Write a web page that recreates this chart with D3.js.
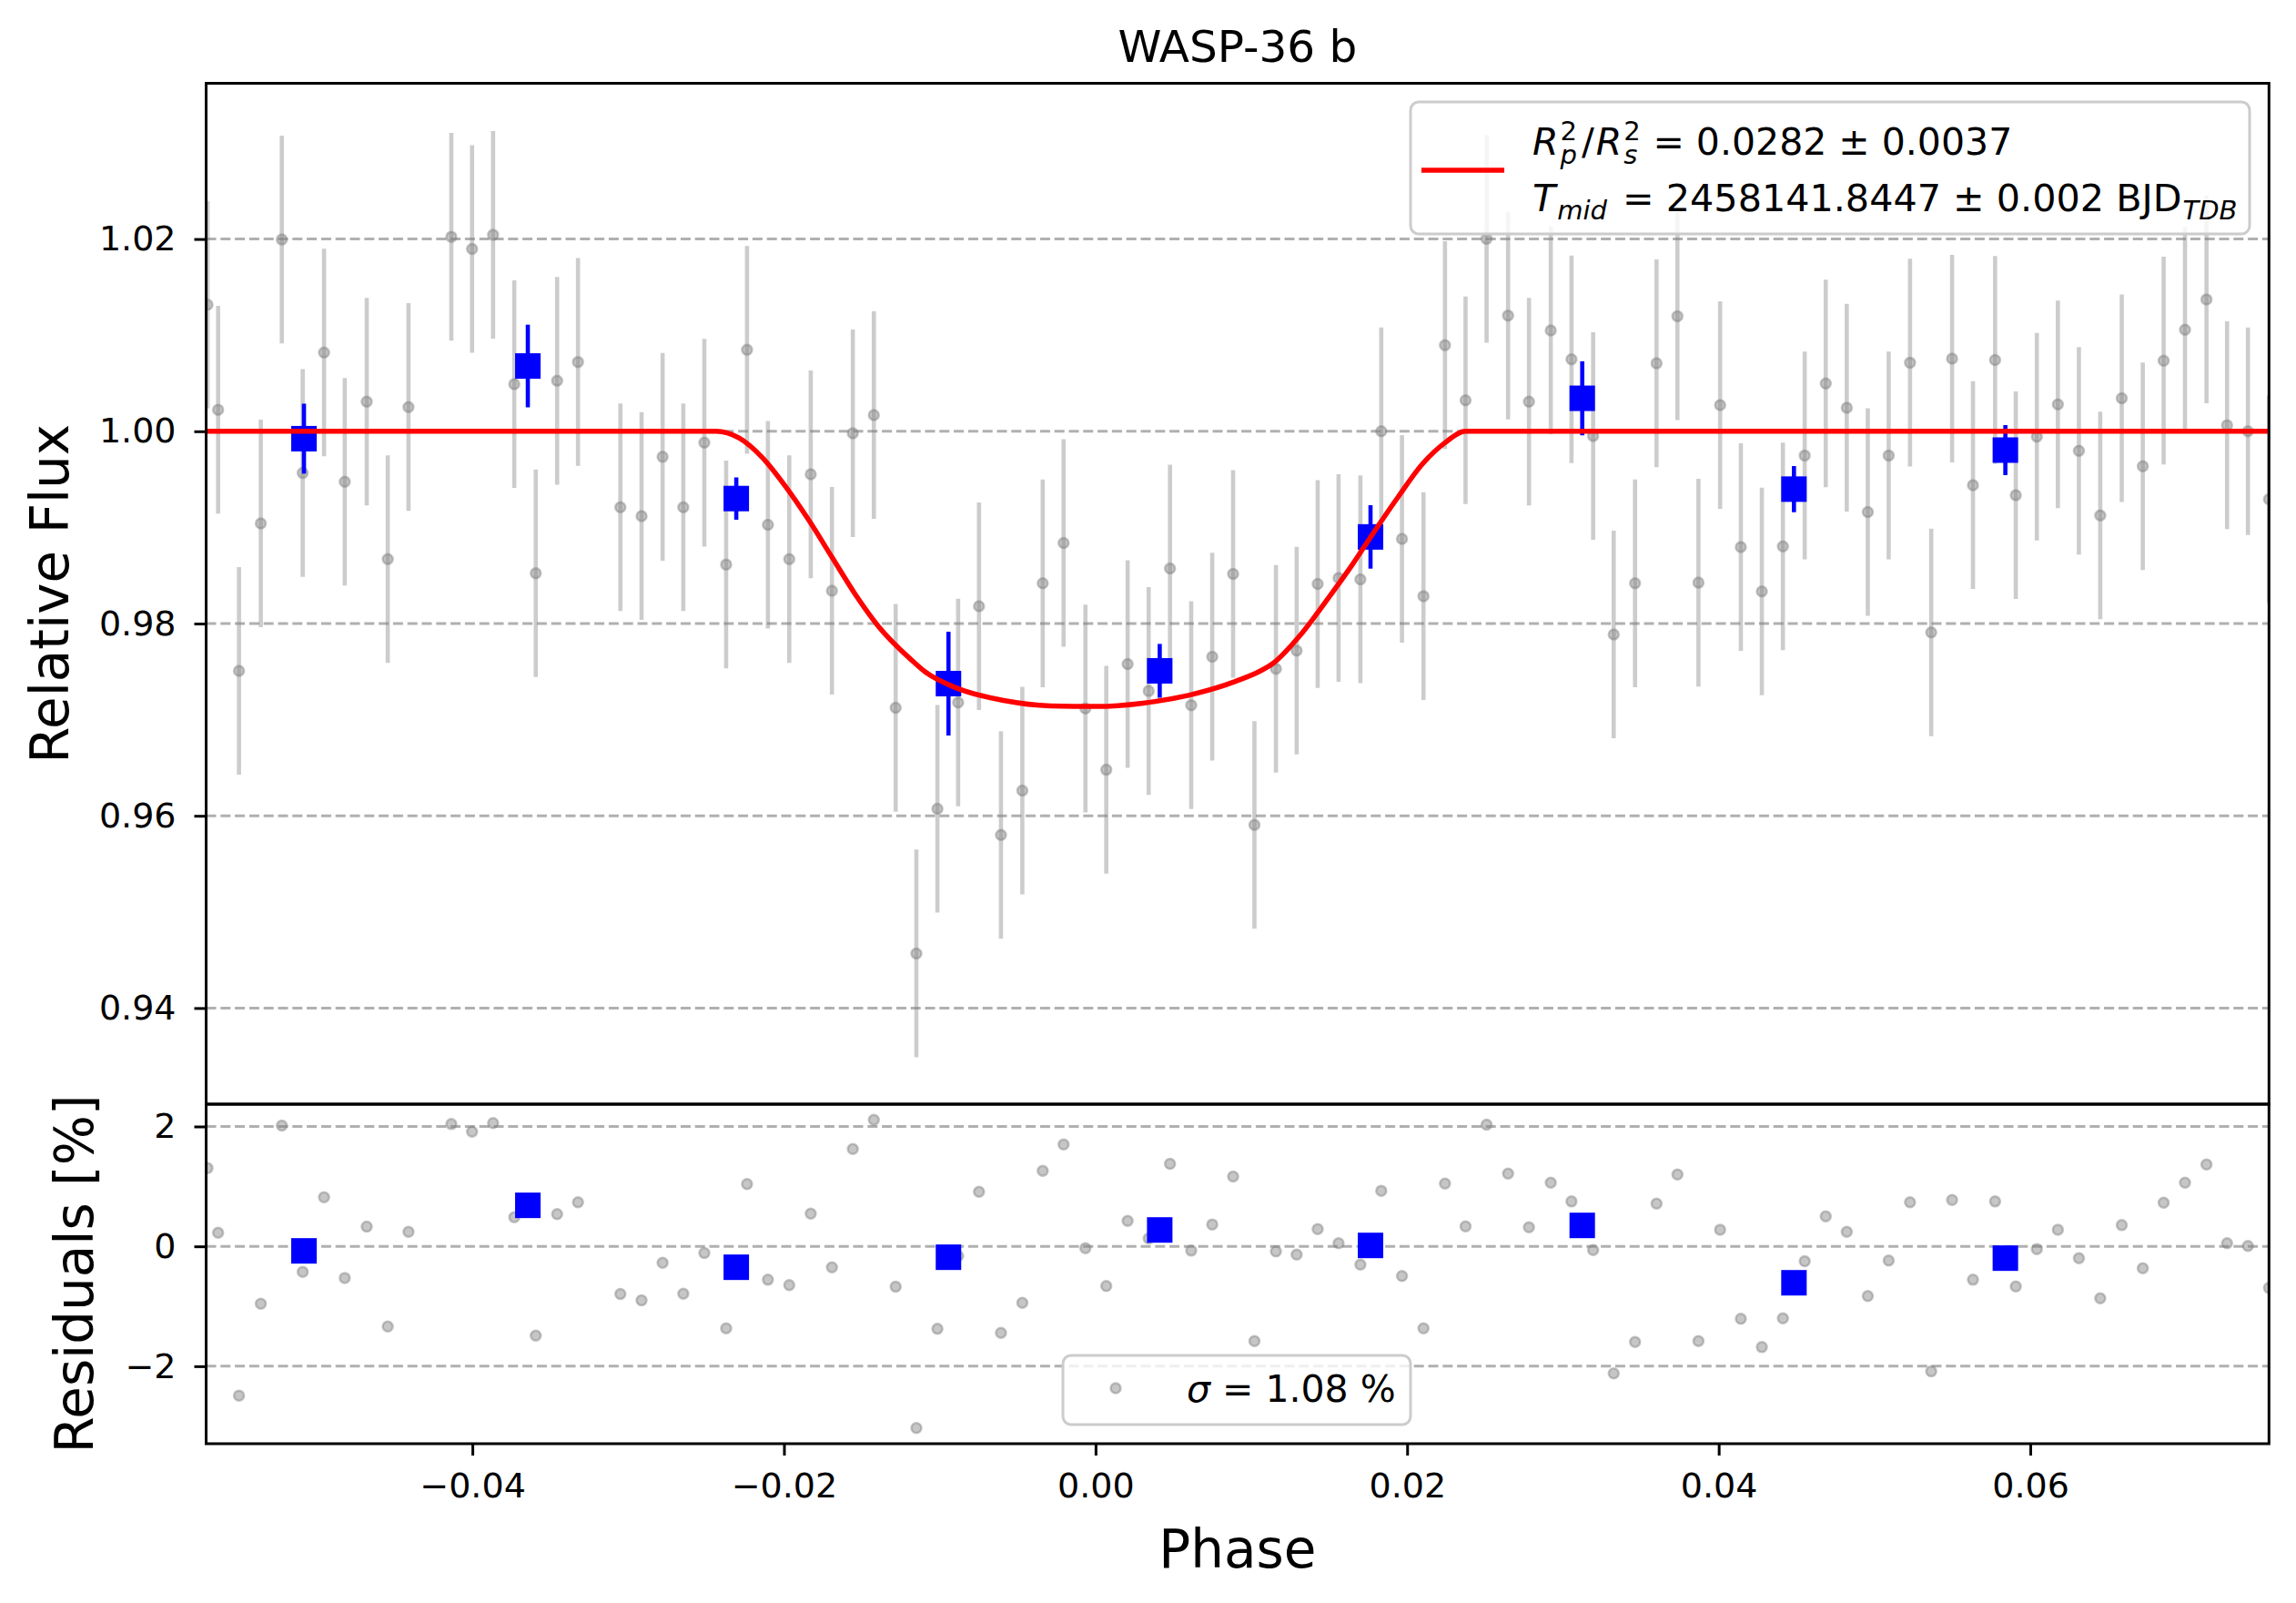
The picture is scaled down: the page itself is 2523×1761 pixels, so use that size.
<!DOCTYPE html>
<html>
<head>
<meta charset="utf-8">
<script src="https://cdn.jsdelivr.net/npm/d3@7"></script>
<style>
body{margin:0;background:#fff;overflow:hidden}
text{font-family:"DejaVu Sans",sans-serif;white-space:pre}
</style>
</head>
<body>
<svg id="chart" width="2523" height="1761"></svg>
<script>
// values
const phase = [-0.05700,-0.05632,-0.05498,-0.05358,-0.05223,-0.05089,-0.04952,-0.04819,-0.04678,-0.04543,
  -0.04410,-0.04135,-0.04002,-0.03867,-0.03731,-0.03593,-0.03456,-0.03322,-0.03050,-0.02914,
  -0.02779,-0.02646,-0.02511,-0.02371,-0.02237,-0.02103,-0.01966,-0.01828,-0.01692,-0.01558,
  -0.01423,-0.01283,-0.01150,-0.01015,-0.00882,-0.00748,-0.00607,-0.00470,-0.00339,-0.00205,
  -0.00065,0.00069,0.00206,0.00341,0.00478,0.00614,0.00749,0.00883,0.01020,0.01158,
  0.01291,0.01426,0.01560,0.01700,0.01834,0.01967,0.02105,0.02243,0.02375,0.02510,
  0.02648,0.02782,0.02922,0.03055,0.03194,0.03326,0.03463,0.03601,0.03735,0.03870,
  0.04009,0.04142,0.04277,0.04412,0.04552,0.04687,0.04822,0.04957,0.05091,0.05228,
  0.05364,0.05498,0.05632,0.05774,0.05907,0.06042,0.06177,0.06312,0.06449,0.06587,
  0.06722,0.06856,0.06993,0.07131,0.07263,0.07397,0.07532]
const flux = [1.01316,1.00224,0.97508,0.99041,1.01995,0.99566,1.00819,0.99475,1.00308,0.98670,
  1.00252,1.02023,1.01897,1.02044,1.00490,0.98523,1.00525,1.00721,0.99209,0.99118,
  0.99734,0.99209,0.99881,0.98614,1.00847,0.99027,0.98670,0.99552,0.98341,0.99979,
  1.00168,0.97123,0.94568,0.96073,0.97179,0.98180,0.95800,0.96262,0.98418,0.98838,
  0.97116,0.96479,0.97578,0.97298,0.98572,0.97151,0.97655,0.98516,0.95905,0.97529,
  0.97718,0.98411,0.98474,0.98460,1.00000,0.98880,0.98285,1.00896,1.00322,1.02002,
  1.01204,1.00308,1.01050,1.00749,0.99951,0.97886,0.98418,1.00707,1.01197,0.98425,
  1.00273,0.98796,0.98334,0.98803,0.99748,1.00497,1.00245,0.99160,0.99748,1.00714,
  0.97907,1.00756,0.99440,1.00742,0.99335,0.99944,1.00280,0.99797,0.99125,1.00343,
  0.99636,1.00735,1.01057,1.01372,1.00063,1.00000,0.99293]
const fluxErr = [0.0108,0.0108,0.0108,0.0108,0.0108,0.0108,0.0108,0.0108,0.0108,0.0108,
  0.0108,0.0108,0.0108,0.0108,0.0108,0.0108,0.0108,0.0108,0.0108,0.0108,
  0.0108,0.0108,0.0108,0.0108,0.0108,0.0108,0.0108,0.0108,0.0108,0.0108,
  0.0108,0.0108,0.0108,0.0108,0.0108,0.0108,0.0108,0.0108,0.0108,0.0108,
  0.0108,0.0108,0.0108,0.0108,0.0108,0.0108,0.0108,0.0108,0.0108,0.0108,
  0.0108,0.0108,0.0108,0.0108,0.0108,0.0108,0.0108,0.0108,0.0108,0.0108,
  0.0108,0.0108,0.0108,0.0108,0.0108,0.0108,0.0108,0.0108,0.0108,0.0108,
  0.0108,0.0108,0.0108,0.0108,0.0108,0.0108,0.0108,0.0108,0.0108,0.0108,
  0.0108,0.0108,0.0108,0.0108,0.0108,0.0108,0.0108,0.0108,0.0108,0.0108,
  0.0108,0.0108,0.0107,0.0108,0.0108,0.0108,0.0108]
const resid = [1.306,0.228,-2.49,-0.957,2.015,-0.425,0.82,-0.527,0.329,-1.337,
  0.243,2.04,1.914,2.056,0.486,-1.489,0.537,0.734,-0.795,-0.901,
  -0.273,-0.79,-0.111,-1.367,1.038,-0.557,-0.648,0.547,-0.349,1.625,
  2.111,-0.673,-3.03,-1.377,-0.162,0.911,-1.443,-0.942,1.261,1.701,
  -0.03,-0.663,0.425,0.132,1.377,-0.071,0.365,1.165,-1.58,-0.086,
  -0.137,0.289,0.051,-0.304,0.927,-0.496,-1.367,1.048,0.334,2.03,
  1.215,0.319,1.063,0.749,-0.061,-2.12,-1.595,0.714,1.2,-1.58,
  0.278,-1.21,-1.681,-1.2,-0.248,0.501,0.243,-0.83,-0.238,0.734,
  -2.086,0.775,-0.557,0.749,-0.668,-0.046,0.278,-0.197,-0.866,0.354,
  -0.365,0.729,1.063,1.367,0.051,0.005,-0.694]

const binPhase = [-0.05081,-0.03644,-0.02306,-0.00944,0.00412,0.01765,0.03124,0.04483,0.05840]
const binFlux = [0.99923,1.00679,0.99300,0.97375,0.97508,0.98901,1.00343,0.99398,0.99804]
const binErr = [0.00364,0.00430,0.00220,0.00540,0.00280,0.00330,0.00385,0.00240,0.00260]
const binResid = [-0.076,0.684,-0.349,-0.182,0.273,0.015,0.349,-0.608,-0.197]

const modelPhase = [-0.05709,-0.02436,-0.02288,-0.02139,-0.01990,-0.01841,-0.01692,-0.01543,-0.01393,-0.01186,
  -0.01096,-0.00888,-0.00589,-0.00291,0.00007,0.00305,0.00603,0.00901,
  0.01050,0.01139,0.01318,0.01497,0.01646,0.01795,0.01944,0.02093,0.02243,0.02375,0.07532]
const modelFlux = [1.0,1.0,0.9993,0.99727,0.99426,0.99076,0.98691,0.98306,0.9797,0.97627,
  0.9750,0.97326,0.9720,0.97144,0.97137,0.97172,0.97256,0.9740,
  0.9750,0.97585,0.97886,0.98271,0.98607,0.98971,0.99321,0.9965,0.99881,1.0,1.0]

const fluxTicks = [0.94,0.96,0.98,1.00,1.02]
const residTicks = [-2,0,2]
const phaseTicks = [-0.04,-0.02,0.00,0.02,0.04,0.06]

const title = 'WASP-36 b'
const sigmaText = ' = 1.08 %'

let svg = d3.select('#chart')
let pLeft = 226.5, pRight = 2493.3, pTop = 91.5, pMid = 1213, pBottom = 1586

let x = d3.scaleLinear().domain([-0.05709,0.07532]).range([pLeft,pRight])
let yFlux = d3.scaleLinear().domain([0.93,1.0362]).range([pMid,pTop])
let yRes = d3.scaleLinear().domain([-3.293,2.372]).range([pBottom,pMid])

svg.append('rect').attr('width',2523).attr('height',1761).attr('fill','#fff')

let defs = svg.append('defs')
defs.append('clipPath').attr('id','clipTop').append('rect')
  .attr('x',pLeft).attr('y',pTop).attr('width',pRight-pLeft).attr('height',pMid-pTop)
defs.append('clipPath').attr('id','clipBot').append('rect')
  .attr('x',pLeft).attr('y',pMid).attr('width',pRight-pLeft).attr('height',pBottom-pMid)

let pts = phase.map((p,i)=>({p:p,f:flux[i],e:fluxErr[i],r:resid[i]}))
let bins = binPhase.map((p,i)=>({p:p,f:binFlux[i],e:binErr[i],r:binResid[i]}))
let model = modelPhase.map((p,i)=>({p:p,f:modelFlux[i]}))

// dashed grid
function grid(ticks,scale){
  svg.append('g').selectAll('line').data(ticks).enter().append('line')
    .attr('x1',pLeft).attr('x2',pRight)
    .attr('y1',d=>scale(d)).attr('y2',d=>scale(d))
    .attr('stroke','#b0b0b0').attr('stroke-width',3).attr('stroke-dasharray','11,4.8')
}
grid(fluxTicks,yFlux)
grid(residTicks,yRes)

// upper panel
let gTop = svg.append('g').attr('clip-path','url(#clipTop)')
gTop.selectAll('.eb').data(pts).enter().append('line')
  .attr('x1',d=>x(d.p)).attr('x2',d=>x(d.p))
  .attr('y1',d=>yFlux(d.f-d.e)).attr('y2',d=>yFlux(d.f+d.e))
  .attr('stroke','gray').attr('stroke-opacity',0.4).attr('stroke-width',4.6)
gTop.selectAll('.dot').data(pts).enter().append('circle')
  .attr('cx',d=>x(d.p)).attr('cy',d=>yFlux(d.f)).attr('r',5.5)
  .attr('fill','gray').attr('fill-opacity',0.45)
  .attr('stroke','gray').attr('stroke-opacity',0.45).attr('stroke-width',2.5)
gTop.selectAll('.beb').data(bins).enter().append('line')
  .attr('x1',d=>x(d.p)).attr('x2',d=>x(d.p))
  .attr('y1',d=>yFlux(d.f-d.e)).attr('y2',d=>yFlux(d.f+d.e))
  .attr('stroke','blue').attr('stroke-width',4.6)
gTop.selectAll('.bsq').data(bins).enter().append('rect')
  .attr('x',d=>x(d.p)-14).attr('y',d=>yFlux(d.f)-14).attr('width',28).attr('height',28)
  .attr('fill','blue')
gTop.append('path').datum(model)
  .attr('d',d3.line().x(d=>x(d.p)).y(d=>yFlux(d.f)).curve(d3.curveMonotoneX))
  .attr('fill','none').attr('stroke','red').attr('stroke-width',5.5)

// residual panel
let gBot = svg.append('g').attr('clip-path','url(#clipBot)')
gBot.selectAll('.rdot').data(pts).enter().append('circle')
  .attr('cx',d=>x(d.p)).attr('cy',d=>yRes(d.r)).attr('r',5.5)
  .attr('fill','gray').attr('fill-opacity',0.45)
  .attr('stroke','gray').attr('stroke-opacity',0.45).attr('stroke-width',2.5)
gBot.selectAll('.rsq').data(bins).enter().append('rect')
  .attr('x',d=>x(d.p)-14).attr('y',d=>yRes(d.r)-14).attr('width',28).attr('height',28)
  .attr('fill','blue')

// spines
svg.append('rect').attr('x',pLeft).attr('y',pTop).attr('width',pRight-pLeft).attr('height',pMid-pTop)
  .attr('fill','none').attr('stroke','#000').attr('stroke-width',3)
svg.append('rect').attr('x',pLeft).attr('y',pMid).attr('width',pRight-pLeft).attr('height',pBottom-pMid)
  .attr('fill','none').attr('stroke','#000').attr('stroke-width',3)

// axes
function styleAxis(g){
  g.select('.domain').remove()
  g.attr('font-size',38).attr('font-family','DejaVu Sans')
  g.selectAll('line').attr('stroke','#000').attr('stroke-width',3)
  g.selectAll('text').attr('fill','#000')
}
svg.append('g').attr('transform',`translate(${pLeft},0)`)
  .call(d3.axisLeft(yFlux).tickValues(fluxTicks).tickFormat(d3.format('.2f')).tickSize(13).tickPadding(20))
  .call(styleAxis)
svg.append('g').attr('transform',`translate(${pLeft},0)`)
  .call(d3.axisLeft(yRes).tickValues(residTicks).tickFormat(d3.format('d')).tickSize(13).tickPadding(20))
  .call(styleAxis)
svg.append('g').attr('transform',`translate(0,${pBottom})`)
  .call(d3.axisBottom(x).tickValues(phaseTicks).tickFormat(d3.format('.2f')).tickSize(13).tickPadding(19))
  .call(styleAxis)

// titles
svg.append('text').attr('x',(pLeft+pRight)/2).attr('y',68).attr('text-anchor','middle')
  .attr('font-size',48.5).text(title)
svg.append('text').attr('x',(pLeft+pRight)/2).attr('y',1722).attr('text-anchor','middle')
  .attr('font-size',58).text('Phase')
svg.append('text').attr('transform',`translate(75,${(pTop+pMid)/2}) rotate(-90)`).attr('text-anchor','middle')
  .attr('font-size',58).text('Relative Flux')
svg.append('text').attr('transform',`translate(102,${(pMid+pBottom)/2}) rotate(-90)`).attr('text-anchor','middle')
  .attr('font-size',58).text('Residuals [%]')

// legend of the fit
let leg = svg.append('g')
leg.append('rect').attr('x',1550).attr('y',112).attr('width',922).attr('height',145).attr('rx',9)
  .attr('fill','#fff').attr('fill-opacity',0.8).attr('stroke','#cccccc').attr('stroke-width',3)
leg.append('line').attr('x1',1562).attr('x2',1653).attr('y1',187).attr('y2',187)
  .attr('stroke','red').attr('stroke-width',5.5)
let t1 = leg.append('text').attr('x',1684).attr('y',170).attr('font-size',41)
t1.append('tspan').attr('font-style','italic').text('R')
t1.append('tspan').attr('font-size',29).attr('dx',2).attr('dy',-16).text('2')
t1.append('tspan').attr('font-size',29).attr('font-style','italic').attr('dx',-18.4).attr('dy',26).text('p')
t1.append('tspan').attr('dx',5).attr('dy',-10).text('/')
t1.append('tspan').attr('font-style','italic').attr('dx',2).text('R')
t1.append('tspan').attr('font-size',29).attr('dx',2).attr('dy',-16).text('2')
t1.append('tspan').attr('font-size',29).attr('font-style','italic').attr('dx',-18.4).attr('dy',26).text('s')
t1.append('tspan').attr('dx',4).attr('dy',-10).text(' = 0.0282 ± 0.0037')
let t2 = leg.append('text').attr('x',1684).attr('y',232).attr('font-size',41.3)
t2.append('tspan').attr('font-style','italic').text('T')
t2.append('tspan').attr('font-size',29).attr('font-style','italic').attr('dx',2).attr('dy',9).text('mid')
t2.append('tspan').attr('dx',4).attr('dy',-9).text(' = 2458141.8447 ± 0.002 BJD')
t2.append('tspan').attr('font-size',29).attr('font-style','italic').attr('dx',1).attr('dy',9).text('TDB')

// legend of the residuals
let leg2 = svg.append('g')
leg2.append('rect').attr('x',1168).attr('y',1489).attr('width',382).attr('height',76).attr('rx',9)
  .attr('fill','#fff').attr('fill-opacity',0.8).attr('stroke','#cccccc').attr('stroke-width',3)
leg2.append('circle').attr('cx',1226).attr('cy',1525).attr('r',5.5)
  .attr('fill','gray').attr('fill-opacity',0.45)
  .attr('stroke','gray').attr('stroke-opacity',0.45).attr('stroke-width',2.5)
let t3 = leg2.append('text').attr('x',1304).attr('y',1540).attr('font-size',41)
t3.append('tspan').attr('font-style','italic').text('σ')
t3.append('tspan').text(sigmaText)
</script>
</body>
</html>
